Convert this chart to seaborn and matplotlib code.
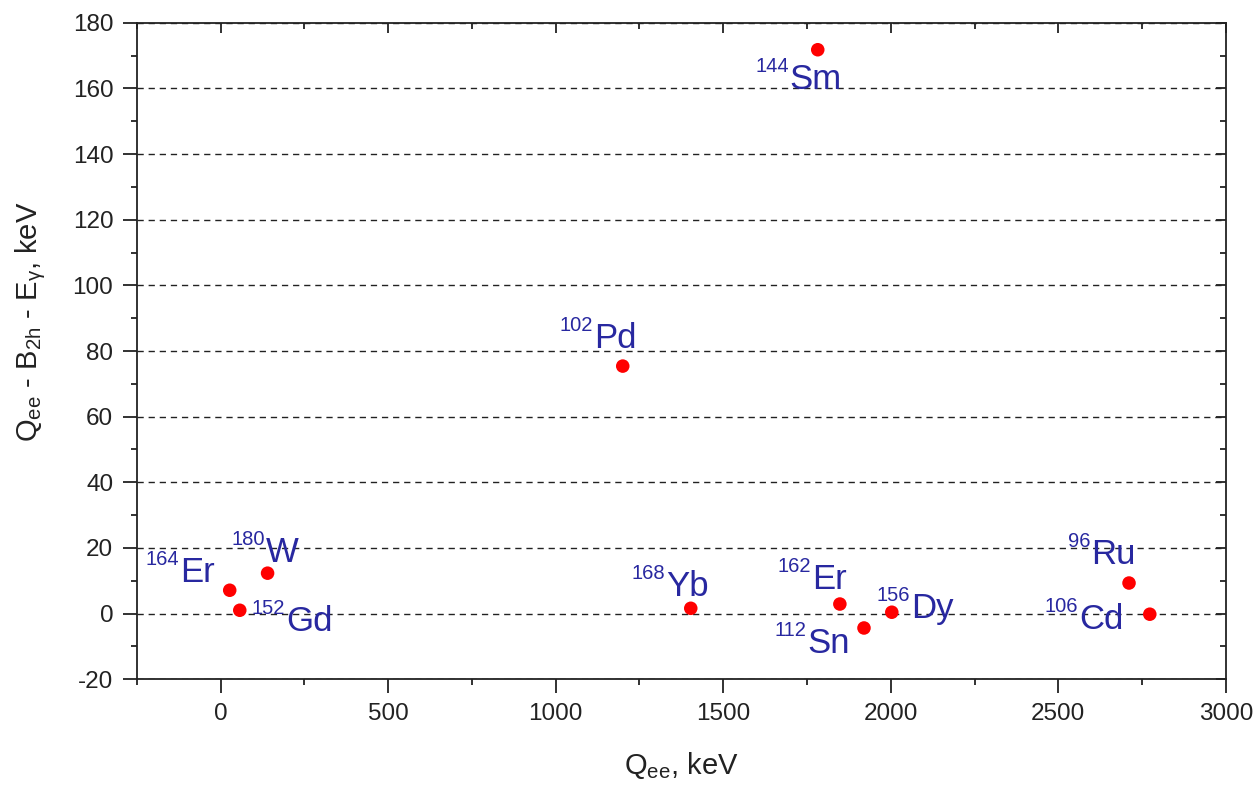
import matplotlib
matplotlib.use("Agg")
import matplotlib.pyplot as plt
import seaborn as sns
import pandas as pd
from matplotlib.ticker import MultipleLocator

# Data
isotopes = ["164Er", "152Gd", "180W", "102Pd", "144Sm", "168Yb", "162Er", "112Sn", "156Dy", "96Ru", "106Cd"]
mass_numbers = ["164", "152", "180", "102", "144", "168", "162", "112", "156", "96", "106"]
elements = ["Er", "Gd", "W", "Pd", "Sm", "Yb", "Er", "Sn", "Dy", "Ru", "Cd"]
q_ee = [27, 57, 140, 1200, 1782, 1403, 1848, 1920, 2003, 2711, 2773]
delta = [7.1, 1.0, 12.3, 75.4, 171.8, 1.6, 2.9, -4.4, 0.4, 9.3, -0.2]

# label placement in pixels: left edge of element symbol / its baseline, relative to point
label_dx = [-50, 46, -2, -29, -28, -25, -28, -57, 19, -38, -71]
label_dy = [8, -21, 11, 18, -39, 12, 15, -25, -6, 19, -15]

df = pd.DataFrame({"iso": isotopes, "Q": q_ee, "D": delta})

sns.set_style("ticks")
plt.rcParams["font.family"] = ["Liberation Sans", "DejaVu Sans"]
plt.rcParams["mathtext.fontset"] = "custom"
plt.rcParams["mathtext.rm"] = "Liberation Sans"
plt.rcParams["mathtext.it"] = "Liberation Sans:italic"
plt.rcParams["mathtext.bf"] = "Liberation Sans:bold"
plt.rcParams["axes.unicode_minus"] = False

fig = plt.figure(figsize=(12.56, 7.87), dpi=100)
ax = fig.add_axes([0.109, 0.137, 0.867, 0.834])

ax.yaxis.grid(True, linestyle=(0, (4.5, 3.5)), color="#222222", linewidth=1.0)
ax.set_axisbelow(True)

sns.scatterplot(data=df, x="Q", y="D", ax=ax, color="#ff0000", s=95,
                edgecolor="none", zorder=3, legend=False)

text_color = "#2828a0"
for m, el, x, y, dx, dy in zip(mass_numbers, elements, q_ee, delta, label_dx, label_dy):
    ax.annotate(el, xy=(x, y), xytext=(dx, dy), textcoords="offset pixels",
                ha="left", va="baseline", fontsize=25, color=text_color, zorder=4)
    ax.annotate(m, xy=(x, y), xytext=(dx - 1, dy + 17), textcoords="offset pixels",
                ha="right", va="baseline", fontsize=14.5, color=text_color, zorder=4)

ax.set_xlim(-250, 3000)
ax.set_ylim(-20, 180)
ax.xaxis.set_major_locator(MultipleLocator(500))
ax.xaxis.set_minor_locator(MultipleLocator(250))
ax.yaxis.set_major_locator(MultipleLocator(20))
ax.yaxis.set_minor_locator(MultipleLocator(10))

spine_color = "#222222"
for s in ax.spines.values():
    s.set_visible(True)
    s.set_linewidth(1.3)
    s.set_color(spine_color)

ax.tick_params(which="both", direction="out", top=False, right=False,
               color=spine_color, width=1.3)
ax.tick_params(which="major", length=10)
ax.tick_params(which="minor", length=4.5)
ax.tick_params(axis="x", which="major", labelsize=17.5, pad=7, labelcolor="#222222")
ax.tick_params(axis="y", which="major", labelsize=17.5, pad=7, labelcolor="#222222")

# mirrored ticks on top and right, pointing inward
top = ax.secondary_xaxis("top")
top.xaxis.set_major_locator(MultipleLocator(500))
top.xaxis.set_minor_locator(MultipleLocator(250))
top.tick_params(which="both", direction="in", labeltop=False, color=spine_color, width=1.3)
top.tick_params(which="major", length=7)
top.tick_params(which="minor", length=4)
top.spines["top"].set_visible(False)

right = ax.secondary_yaxis("right")
right.yaxis.set_major_locator(MultipleLocator(20))
right.yaxis.set_minor_locator(MultipleLocator(10))
right.tick_params(which="both", direction="in", labelright=False, color=spine_color, width=1.3)
right.tick_params(which="major", length=7)
right.tick_params(which="minor", length=4)
right.spines["right"].set_visible(False)

ax.set_xlabel(r"$\mathregular{Q_{ee}}$, keV", fontsize=21, color="#222222", labelpad=18)
ax.set_ylabel(r"$\mathregular{Q_{ee}}$ - $\mathregular{B_{2h}}$ - $\mathregular{E_{\gamma}}$, keV",
              fontsize=21, color="#222222")
ax.yaxis.set_label_coords(-0.082, 0.544)

fig.savefig("out.png", dpi=100)
